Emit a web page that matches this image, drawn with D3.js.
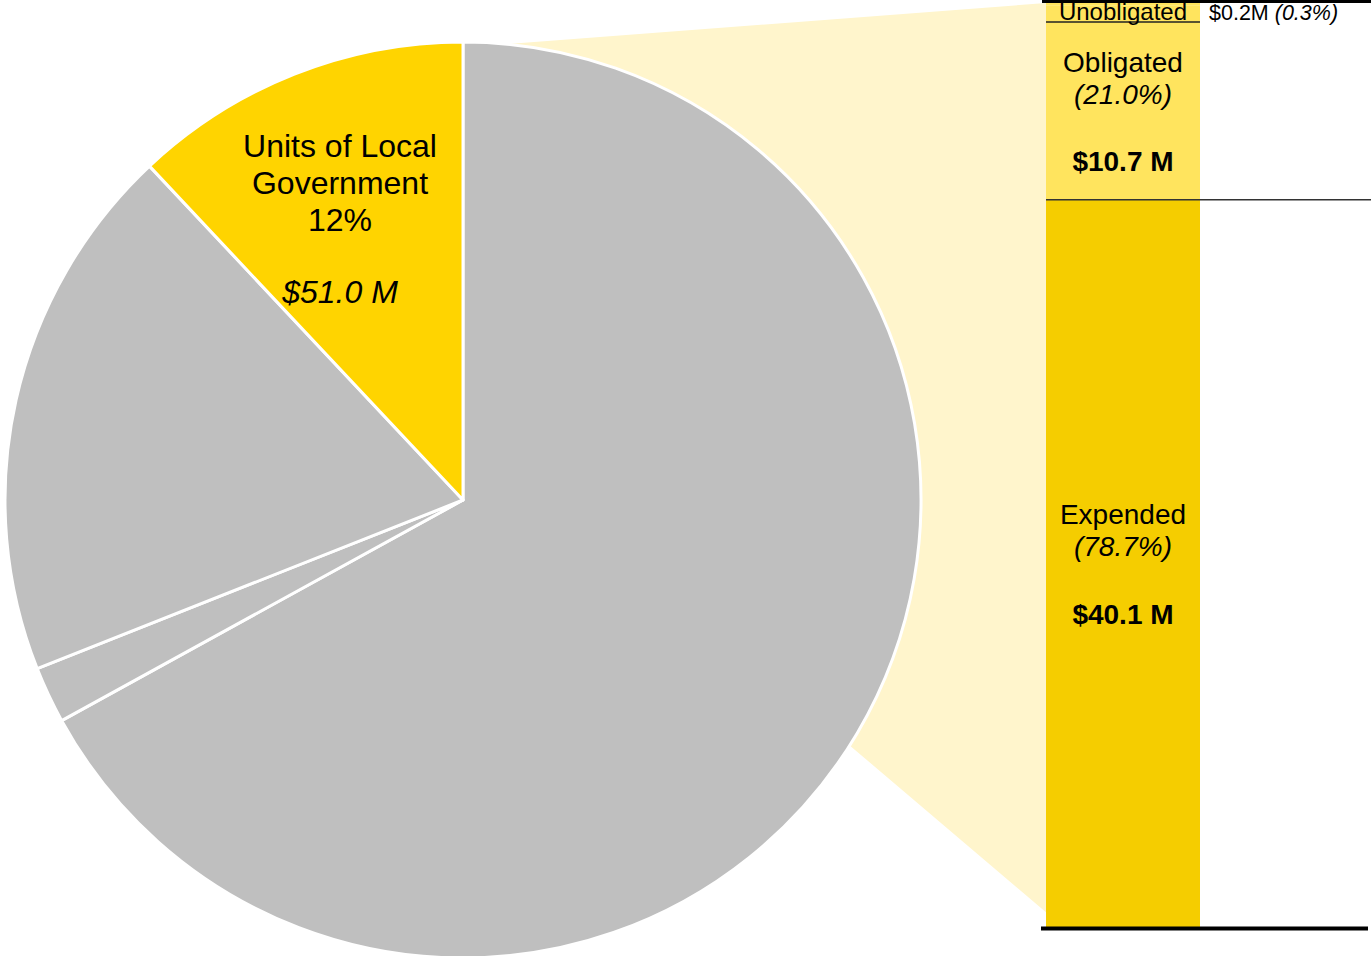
<!DOCTYPE html>
<meta charset="utf-8">
<style>
body { margin: 0; background: #fff; }
text { font-family: "Liberation Sans", Arial, sans-serif; fill: #000; }
</style>
<svg width="1371" height="956"></svg>
<script src="https://d3js.org/d3.v7.min.js"></script>
<script>

// pie slices (percent of total), clockwise from 12 o'clock
var slices = ["Other A", "Other B", "Other C", "Units of Local Government"],
    shares = [67, 2, 19, 12],
    sliceColors = ["#bfbfbf", "#bfbfbf", "#bfbfbf", "#ffd400"];

// breakdown of the highlighted slice (percent), bottom to top
var parts = ["Expended", "Obligated", "Unobligated"],
    partPct = [78.7, 21.0, 0.3],
    partAmt = ["$40.1 M", "$10.7 M", "$0.2M"],
    partColors = ["#f5cd00", "#ffe45e", "#ffe45e"];

var svg = d3.select("svg"),
    cx = 463, cy = 500, r = 458;

var pie = d3.pie().sort(null).value(function(d) { return d; });
var arcs = pie(shares);
var arc = d3.arc().innerRadius(0).outerRadius(r);

var y = d3.scaleLinear().domain([0, 100]).range([927, 3]),
    barX = 1046, barW = 154;

function onPie(a) {
  return [cx + r * Math.sin(a), cy - r * Math.cos(a)];
}

// connector from pie to bar
var deg = Math.PI / 180;
svg.append("polygon")
    .attr("points", [[cx, cy], onPie(5.5 * deg), [barX, y(100)], [barX, y(1.6)], onPie(122.4 * deg)].join(" "))
    .attr("fill", "#fff5cc");

var g = svg.append("g").attr("transform", "translate(" + cx + "," + cy + ")");

g.selectAll("path")
  .data(arcs)
  .enter().append("path")
    .attr("d", arc)
    .attr("fill", function(d, i) { return sliceColors[i]; })
    .attr("stroke", "#fff")
    .attr("stroke-width", 3)
    .attr("stroke-linejoin", "round");

// label of the highlighted slice
var lab = svg.append("g").attr("text-anchor", "middle").style("font-size", "32px");
[["Units of Local", 157], ["Government", 194], ["12%", 231]].forEach(function(t) {
  lab.append("text").attr("x", 340).attr("y", t[1]).text(t[0]);
});
lab.append("text").attr("x", 340).attr("y", 303).style("font-style", "italic").text("$51.0 M");

// stacked bar
var stack = [];
var acc = 0;
partPct.forEach(function(p, i) { stack.push({ name: parts[i], y0: acc, y1: acc + p, i: i }); acc += p; });

svg.selectAll(".seg")
  .data(stack)
  .enter().append("rect")
    .attr("class", "seg")
    .attr("x", barX)
    .attr("width", barW)
    .attr("y", function(d) { return y(d.y1); })
    .attr("height", function(d) { return y(d.y0) - y(d.y1); })
    .attr("fill", function(d) { return partColors[d.i]; });

// rules
svg.append("line").attr("x1", barX).attr("x2", 1371).attr("y1", y(partPct[0])).attr("y2", y(partPct[0]))
    .attr("stroke", "#333").attr("stroke-width", 1.5);
svg.append("line").attr("x1", barX).attr("x2", barX + barW).attr("y1", 22).attr("y2", 22)
    .attr("stroke", "#222").attr("stroke-width", 1.5);

// bar labels
var bx = barX + barW / 2;
var bl = svg.append("g").attr("text-anchor", "middle").style("font-size", "28px");
bl.append("text").attr("x", bx).attr("y", 72).text(parts[1]);
bl.append("text").attr("x", bx).attr("y", 104).style("font-style", "italic").text("(" + partPct[1].toFixed(1) + "%)");
bl.append("text").attr("x", bx).attr("y", 171).style("font-weight", "bold").text(partAmt[1]);

bl.append("text").attr("x", bx).attr("y", 524).text(parts[0]);
bl.append("text").attr("x", bx).attr("y", 556).style("font-style", "italic").text("(" + partPct[0].toFixed(1) + "%)");
bl.append("text").attr("x", bx).attr("y", 624).style("font-weight", "bold").text(partAmt[0]);

svg.append("text").attr("x", bx).attr("y", 20).attr("text-anchor", "middle").style("font-size", "24px").text(parts[2]);
var u = svg.append("text").attr("x", 1209).attr("y", 20).style("font-size", "21.5px");
u.append("tspan").text(partAmt[2] + " ");
u.append("tspan").style("font-style", "italic").text("(" + partPct[2].toFixed(1) + "%)");

svg.append("line").attr("x1", 1042).attr("x2", 1371).attr("y1", 1.5).attr("y2", 1.5)
    .attr("stroke", "#000").attr("stroke-width", 3);
svg.append("line").attr("x1", 1041).attr("x2", 1368).attr("y1", 928.5).attr("y2", 928.5)
    .attr("stroke", "#000").attr("stroke-width", 4);

</script>
